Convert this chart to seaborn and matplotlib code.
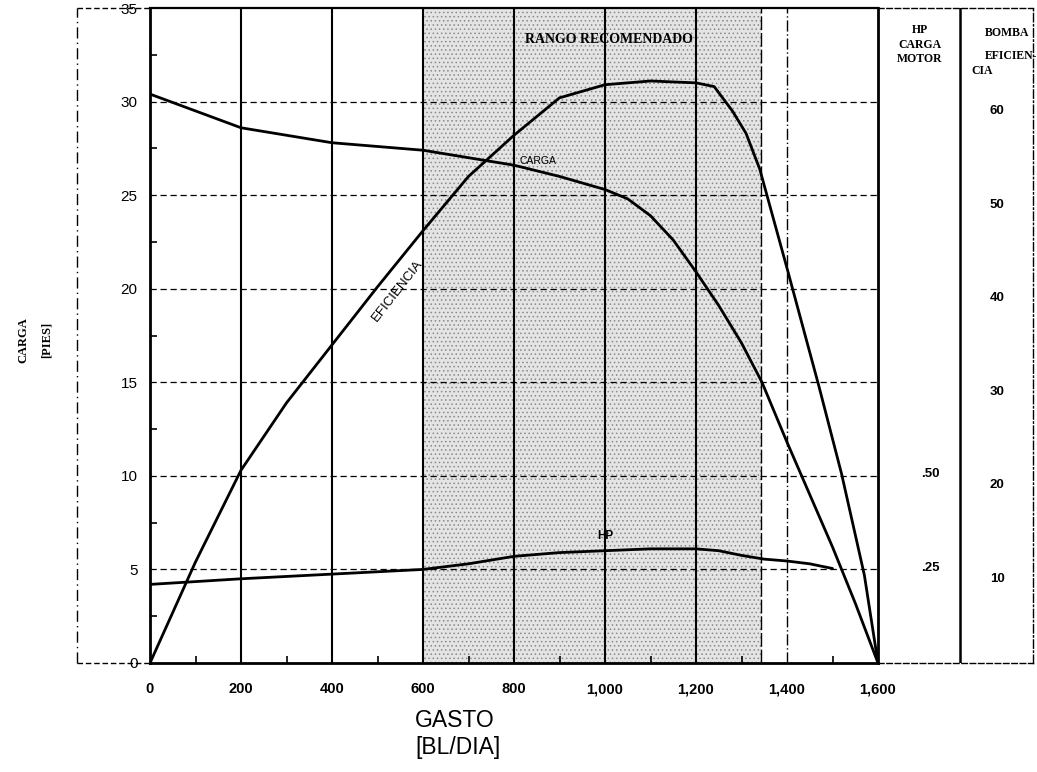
import numpy as np
import pandas as pd
import matplotlib
matplotlib.use("Agg")
import matplotlib.pyplot as plt
import seaborn as sns
from matplotlib.lines import Line2D
from matplotlib.ticker import FuncFormatter, MultipleLocator

# ---------------- data ----------------
gasto_carga = [0, 100, 200, 300, 400, 500, 600, 700, 800, 900, 1000, 1050, 1100,
               1150, 1200, 1250, 1300, 1345, 1400, 1450, 1500, 1550, 1600]
carga_pies = [30.4, 29.5, 28.6, 28.2, 27.8, 27.6, 27.4, 27.0, 26.6, 26.0, 25.3, 24.8, 23.9,
              22.6, 20.9, 19.1, 17.1, 15.0, 11.8, 9.0, 6.2, 3.2, 0.0]

gasto_eff = [0, 100, 200, 300, 400, 500, 600, 700, 800, 900, 1000, 1100, 1200,
             1240, 1280, 1310, 1340, 1400, 1470, 1520, 1570, 1600]
eficiencia_pct = [0, 10.8, 20.6, 27.8, 34.0, 40.2, 46.2, 52.0, 56.4, 60.4, 61.8, 62.2, 62.0,
                  61.6, 59.0, 56.6, 52.8, 42.2, 29.6, 20.2, 9.4, 0]

gasto_hp = [0, 200, 400, 600, 700, 800, 900, 1000, 1100, 1200, 1250, 1300, 1350, 1400, 1450, 1500]
hp = [0.21, 0.225, 0.2375, 0.25, 0.265, 0.285, 0.295, 0.30, 0.305, 0.305, 0.30,
      0.2875, 0.2775, 0.2725, 0.265, 0.2525]

rango_recomendado = [600, 1343]
x_ticks = [0, 200, 400, 600, 800, 1000, 1200, 1400, 1600]
y_ticks = [0, 5, 10, 15, 20, 25, 30, 35]
hp_labels = [0.25, 0.50]
eff_labels = [10, 20, 30, 40, 50, 60]

EFF_SCALE = 0.5   # % efficiency -> pies on the chart
HP_SCALE = 20.0   # HP -> pies on the chart

# ---------------- style ----------------
sns.set_style("white")
plt.rcParams['font.family'] = ['Liberation Sans', 'DejaVu Sans']
plt.rcParams['hatch.linewidth'] = 0.6
for k in ['text.color', 'axes.labelcolor', 'xtick.color', 'ytick.color', 'axes.edgecolor']:
    plt.rcParams[k] = 'black'

W, H = 1037, 772
fig = plt.figure(figsize=(W / 100, H / 100), dpi=100)
L, R, B, T = 150, 878, 663, 8
ax = fig.add_axes([L / W, (H - B) / H, (R - L) / W, (B - T) / H])
ax2 = fig.add_axes([R / W, (H - B) / H, (1033 - R) / W, (B - T) / H])

ax.set_xlim(0, 1600)
ax.set_ylim(0, 35)

# shaded recommended range
ax.axvspan(rango_recomendado[0], rango_recomendado[1], facecolor='#e4e4e4',
           edgecolor='#8a8a8a', hatch='....', lw=0, zorder=0)

# grid
for xv in x_ticks[1:-2]:
    ax.axvline(xv, color='black', lw=1.5, zorder=1)
ax.axvline(1400, color='black', lw=1.0, ls=(0, (8, 2, 1, 2)), zorder=1)
ax.axvline(rango_recomendado[1], color='black', lw=1.0, ls=(0, (10, 2)), zorder=1)
for yv in y_ticks[1:-1]:
    ax.axhline(yv, color='black', lw=0.9, ls=(0, (5, 3)), zorder=1)

# curves
df_c = pd.DataFrame({'gasto': gasto_carga, 'carga': carga_pies})
df_e = pd.DataFrame({'gasto': gasto_eff, 'eff': np.array(eficiencia_pct) * EFF_SCALE})
df_h = pd.DataFrame({'gasto': gasto_hp, 'hp': np.array(hp) * HP_SCALE})
sns.lineplot(data=df_c, x='gasto', y='carga', ax=ax, color='black', lw=2.0,
             estimator=None, sort=False, zorder=3)
sns.lineplot(data=df_e, x='gasto', y='eff', ax=ax, color='black', lw=2.0,
             estimator=None, sort=False, zorder=3)
sns.lineplot(data=df_h, x='gasto', y='hp', ax=ax, color='black', lw=2.0,
             estimator=None, sort=False, zorder=3)

# curve labels
ax.text(853, 26.55, "CARGA", fontsize=7.5, ha='center', va='bottom', zorder=4)
ax.text(545, 19.9, "EFICIENCIA", fontsize=9.5, ha='center', va='center',
        rotation=52, rotation_mode='anchor', zorder=4)
ax.text(1000, 6.45, "HP", fontsize=8.5, fontweight='bold', ha='center', va='bottom', zorder=4)
ax.text(824, 33.3, "RANGO RECOMENDADO", fontsize=10, fontweight='bold',
        family=['Liberation Serif'], ha='left', va='center', zorder=4)

# ticks
ax.set_xticks(x_ticks)
ax.xaxis.set_major_formatter(FuncFormatter(lambda v, p: f"{v:,.0f}"))
ax.set_yticks(y_ticks)
ax.xaxis.set_minor_locator(MultipleLocator(100))
ax.yaxis.set_minor_locator(MultipleLocator(2.5))
ax.tick_params(axis='x', which='major', length=0, pad=14, labelsize=10.5, labelcolor='black')
ax.tick_params(axis='y', which='major', length=0, pad=9, labelsize=11, labelcolor='black')
ax.tick_params(which='minor', direction='in', length=5, width=1.2, color='black',
               bottom=True, left=True)
for lab in ax.get_xticklabels():
    lab.set_fontweight('bold')

# spines
for s in ['left', 'bottom', 'right']:
    ax.spines[s].set_linewidth(2.0)
    ax.spines[s].set_color('black')
ax.spines['top'].set_linewidth(1.6)
ax.spines['top'].set_color('black')

# axis labels
ax.set_xlabel("GASTO\n[BL/DIA]", fontsize=16.5, ha='left', va='top', linespacing=1.2,
              color='black')
ax.xaxis.set_label_coords((415 - L) / (R - L), (B - 709) / (B - T))
ax.set_ylabel("CARGA\n[PIES]", fontsize=9, family=['Liberation Serif'], fontweight='bold',
              linespacing=2.3, ha='center', va='center', color='black')
ax.yaxis.set_label_coords((35 - L) / (R - L), (B - 340) / (B - T))

# right-hand columns
ax2.set_xlim(0, 1)
ax2.set_ylim(0, 35)
ax2.set_xticks([])
ax2.set_yticks([])
ax2.patch.set_alpha(0)
ax2.spines['left'].set_visible(False)
ax2.spines['right'].set_linestyle((0, (6, 2, 1, 2)))
ax2.spines['right'].set_linewidth(1.0)
for s in ['top', 'bottom']:
    ax2.spines[s].set_linestyle((0, (4, 2)))
    ax2.spines[s].set_linewidth(1.0)
sep = (960 - R) / (1033 - R)
ax2.axvline(sep, color='black', lw=1.8)

serif = ['Liberation Serif']
ax2.text(0.27, 34.15, "HP\nCARGA\nMOTOR", family=serif, fontweight='bold', fontsize=8.5,
         ha='center', va='top', linespacing=1.3)
ax2.text(0.83, 34.0, "BOMBA", family=serif, fontweight='bold', fontsize=8.5, ha='center', va='top')
ax2.text(0.69, 32.75, "EFICIEN-", family=serif, fontweight='bold', fontsize=8.5, ha='left', va='top')
ax2.text(0.605, 31.95, "CIA", family=serif, fontweight='bold', fontsize=8.5, ha='left', va='top')
for h in hp_labels:
    ax2.text(0.34, h * HP_SCALE + 0.1, f".{int(round(h * 100)):02d}", fontsize=9.5,
             fontweight='bold', ha='center', va='center')
for e in eff_labels:
    ax2.text(0.77, e * EFF_SCALE - 0.5, f"{e}", fontsize=9.5, fontweight='bold',
             ha='center', va='center')

# outer dashed frame on the left
fx0, fx1 = 77 / W, L / W
fyb, fyt = (H - B) / H, (H - T) / H
fig.add_artist(Line2D([fx0, fx0], [fyb, fyt], transform=fig.transFigure,
                      color='black', lw=1.0, ls=(0, (8, 3, 1, 3))))
fig.add_artist(Line2D([fx0, fx1], [fyb, fyb], transform=fig.transFigure,
                      color='black', lw=1.0, ls=(0, (4, 2))))
fig.add_artist(Line2D([fx0, fx1], [fyt, fyt], transform=fig.transFigure,
                      color='black', lw=1.0, ls=(0, (4, 2))))

fig.savefig("out.png", dpi=100, facecolor='white')
